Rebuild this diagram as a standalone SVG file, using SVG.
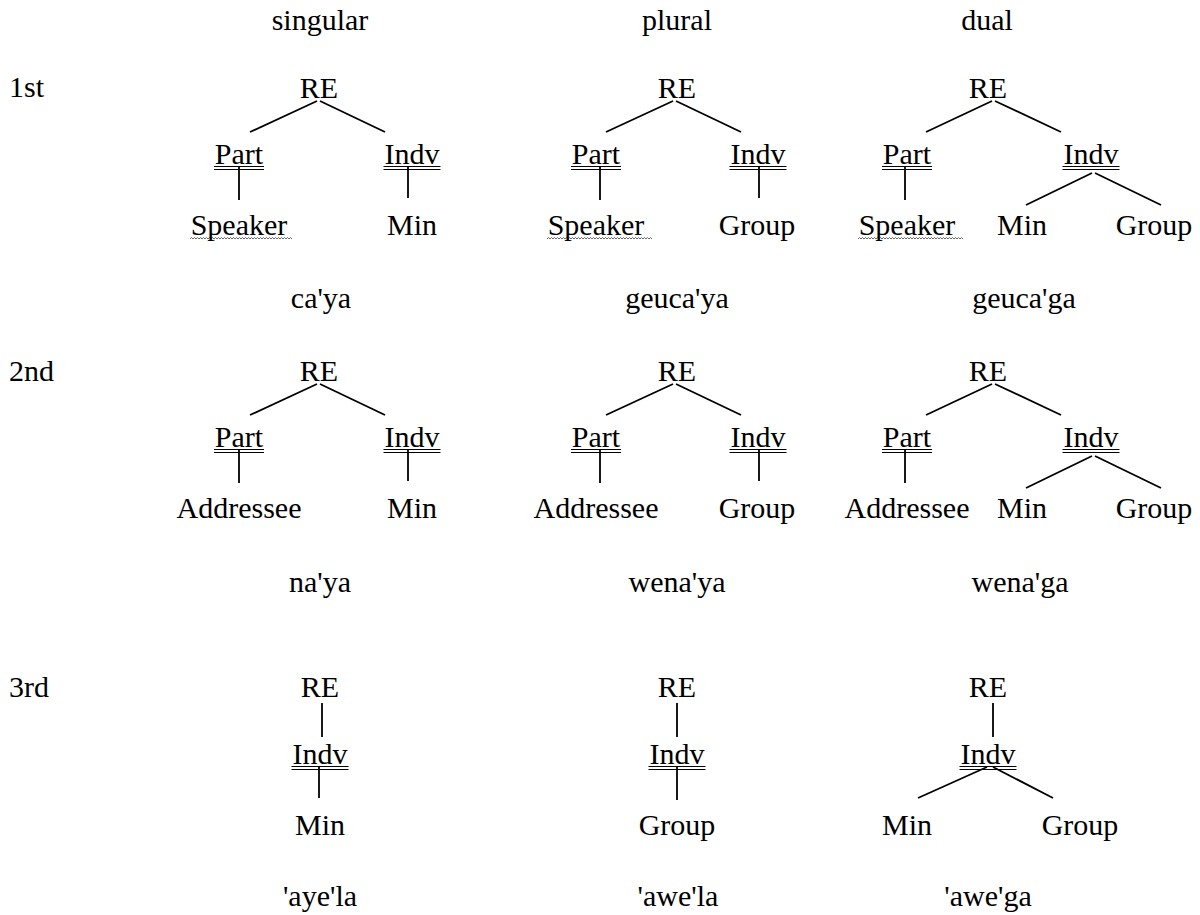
<svg xmlns="http://www.w3.org/2000/svg" width="1200" height="915" viewBox="0 0 1200 915">
  <rect width="1200" height="915" fill="#fff"/>

  <!-- tree edges -->
  <g id="connectors" stroke="#000" stroke-width="1.8" fill="none">
    <!-- 1st singular -->
    <line x1="317" y1="101" x2="250" y2="132"/>
    <line x1="320" y1="101" x2="385" y2="132"/>
    <line x1="239" y1="167" x2="239" y2="200"/>
    <line x1="408" y1="167" x2="408" y2="198"/>
    <!-- 1st plural -->
    <line x1="673" y1="101" x2="606" y2="132"/>
    <line x1="676" y1="101" x2="741" y2="132"/>
    <line x1="600" y1="167" x2="600" y2="200"/>
    <line x1="759" y1="167" x2="759" y2="198"/>
    <!-- 1st dual -->
    <line x1="992" y1="101" x2="926" y2="132"/>
    <line x1="995" y1="101" x2="1061" y2="132"/>
    <line x1="905" y1="167" x2="905" y2="200"/>
    <line x1="1092" y1="173" x2="1026" y2="205"/>
    <line x1="1095" y1="173" x2="1161" y2="205"/>
    <!-- 2nd singular -->
    <line x1="317" y1="384" x2="250" y2="415"/>
    <line x1="320" y1="384" x2="385" y2="415"/>
    <line x1="239" y1="450" x2="239" y2="483"/>
    <line x1="408" y1="450" x2="408" y2="481"/>
    <!-- 2nd plural -->
    <line x1="673" y1="384" x2="606" y2="415"/>
    <line x1="676" y1="384" x2="741" y2="415"/>
    <line x1="600" y1="450" x2="600" y2="483"/>
    <line x1="759" y1="450" x2="759" y2="481"/>
    <!-- 2nd dual -->
    <line x1="992" y1="384" x2="926" y2="415"/>
    <line x1="995" y1="384" x2="1061" y2="415"/>
    <line x1="905" y1="450" x2="905" y2="483"/>
    <line x1="1092" y1="456" x2="1026" y2="488"/>
    <line x1="1095" y1="456" x2="1161" y2="488"/>
    <!-- 3rd singular -->
    <line x1="322" y1="703" x2="322" y2="737"/>
    <line x1="319" y1="767" x2="319" y2="798"/>
    <!-- 3rd plural -->
    <line x1="677" y1="703" x2="677" y2="737"/>
    <line x1="677" y1="767" x2="677" y2="800"/>
    <!-- 3rd dual -->
    <line x1="993" y1="703" x2="993" y2="737"/>
    <line x1="987" y1="767" x2="918" y2="798"/>
    <line x1="993" y1="767" x2="1053" y2="798"/>
  </g>

  <!-- double underlines under Part / Indv -->
  <g id="underlines" stroke="#000" stroke-width="1">
    <path d="M214 166.5h50M214 169.5h50 M383.5 166.5h57M383.5 169.5h57"/>
    <path d="M571 166.5h50M571 169.5h50 M729.5 166.5h57M729.5 169.5h57"/>
    <path d="M882 166.5h50M882 169.5h50 M1062.5 166.5h57M1062.5 169.5h57"/>
    <path d="M214 449.5h50M214 452.5h50 M383.5 449.5h57M383.5 452.5h57"/>
    <path d="M571 449.5h50M571 452.5h50 M729.5 449.5h57M729.5 452.5h57"/>
    <path d="M882 449.5h50M882 452.5h50 M1062.5 449.5h57M1062.5 452.5h57"/>
    <path d="M291.5 766.5h57M291.5 769.5h57 M648.5 766.5h57M648.5 769.5h57 M959.5 766.5h57M959.5 769.5h57"/>
  </g>

  <!-- wavy underlines under Speaker -->
  <g id="wavy" stroke="#444" stroke-width="0.8" fill="none">
    <path d="M190 239 l1.5 -1.5 l1.5 1.5 l1.5 -1.5 l1.5 1.5 l1.5 -1.5 l1.5 1.5 l1.5 -1.5 l1.5 1.5 l1.5 -1.5 l1.5 1.5 l1.5 -1.5 l1.5 1.5 l1.5 -1.5 l1.5 1.5 l1.5 -1.5 l1.5 1.5 l1.5 -1.5 l1.5 1.5 l1.5 -1.5 l1.5 1.5 l1.5 -1.5 l1.5 1.5 l1.5 -1.5 l1.5 1.5 l1.5 -1.5 l1.5 1.5 l1.5 -1.5 l1.5 1.5 l1.5 -1.5 l1.5 1.5 l1.5 -1.5 l1.5 1.5 l1.5 -1.5 l1.5 1.5 l1.5 -1.5 l1.5 1.5 l1.5 -1.5 l1.5 1.5 l1.5 -1.5 l1.5 1.5 l1.5 -1.5 l1.5 1.5 l1.5 -1.5 l1.5 1.5 l1.5 -1.5 l1.5 1.5 l1.5 -1.5 l1.5 1.5 l1.5 -1.5 l1.5 1.5 l1.5 -1.5 l1.5 1.5 l1.5 -1.5 l1.5 1.5 l1.5 -1.5 l1.5 1.5 l1.5 -1.5 l1.5 1.5 l1.5 -1.5 l1.5 1.5 l1.5 -1.5 l1.5 1.5 l1.5 -1.5 l1.5 1.5 l1.5 -1.5 l1.5 1.5 l1.5 -1.5 l1.5 1.5"/>
    <path d="M547 239 l1.5 -1.5 l1.5 1.5 l1.5 -1.5 l1.5 1.5 l1.5 -1.5 l1.5 1.5 l1.5 -1.5 l1.5 1.5 l1.5 -1.5 l1.5 1.5 l1.5 -1.5 l1.5 1.5 l1.5 -1.5 l1.5 1.5 l1.5 -1.5 l1.5 1.5 l1.5 -1.5 l1.5 1.5 l1.5 -1.5 l1.5 1.5 l1.5 -1.5 l1.5 1.5 l1.5 -1.5 l1.5 1.5 l1.5 -1.5 l1.5 1.5 l1.5 -1.5 l1.5 1.5 l1.5 -1.5 l1.5 1.5 l1.5 -1.5 l1.5 1.5 l1.5 -1.5 l1.5 1.5 l1.5 -1.5 l1.5 1.5 l1.5 -1.5 l1.5 1.5 l1.5 -1.5 l1.5 1.5 l1.5 -1.5 l1.5 1.5 l1.5 -1.5 l1.5 1.5 l1.5 -1.5 l1.5 1.5 l1.5 -1.5 l1.5 1.5 l1.5 -1.5 l1.5 1.5 l1.5 -1.5 l1.5 1.5 l1.5 -1.5 l1.5 1.5 l1.5 -1.5 l1.5 1.5 l1.5 -1.5 l1.5 1.5 l1.5 -1.5 l1.5 1.5 l1.5 -1.5 l1.5 1.5 l1.5 -1.5 l1.5 1.5 l1.5 -1.5 l1.5 1.5 l1.5 -1.5 l1.5 1.5 l1.5 -1.5 l1.5 1.5"/>
    <path d="M858 239 l1.5 -1.5 l1.5 1.5 l1.5 -1.5 l1.5 1.5 l1.5 -1.5 l1.5 1.5 l1.5 -1.5 l1.5 1.5 l1.5 -1.5 l1.5 1.5 l1.5 -1.5 l1.5 1.5 l1.5 -1.5 l1.5 1.5 l1.5 -1.5 l1.5 1.5 l1.5 -1.5 l1.5 1.5 l1.5 -1.5 l1.5 1.5 l1.5 -1.5 l1.5 1.5 l1.5 -1.5 l1.5 1.5 l1.5 -1.5 l1.5 1.5 l1.5 -1.5 l1.5 1.5 l1.5 -1.5 l1.5 1.5 l1.5 -1.5 l1.5 1.5 l1.5 -1.5 l1.5 1.5 l1.5 -1.5 l1.5 1.5 l1.5 -1.5 l1.5 1.5 l1.5 -1.5 l1.5 1.5 l1.5 -1.5 l1.5 1.5 l1.5 -1.5 l1.5 1.5 l1.5 -1.5 l1.5 1.5 l1.5 -1.5 l1.5 1.5 l1.5 -1.5 l1.5 1.5 l1.5 -1.5 l1.5 1.5 l1.5 -1.5 l1.5 1.5 l1.5 -1.5 l1.5 1.5 l1.5 -1.5 l1.5 1.5 l1.5 -1.5 l1.5 1.5 l1.5 -1.5 l1.5 1.5 l1.5 -1.5 l1.5 1.5 l1.5 -1.5 l1.5 1.5 l1.5 -1.5 l1.5 1.5 l1.5 -1.5 l1.5 1.5"/>
  </g>

  <!-- column headers -->
  <g id="headers">
    <text x="320" y="30" font-size="30" font-family="Liberation Serif" text-anchor="middle">singular</text>
    <text x="677" y="30" font-size="30" font-family="Liberation Serif" text-anchor="middle">plural</text>
    <text x="987" y="30" font-size="30" font-family="Liberation Serif" text-anchor="middle">dual</text>
  </g>

  <!-- row labels -->
  <g id="row-labels">
    <text x="9" y="97" font-size="30" font-family="Liberation Serif">1st</text>
    <text x="9" y="381" font-size="30" font-family="Liberation Serif">2nd</text>
    <text x="9" y="697" font-size="30" font-family="Liberation Serif">3rd</text>
  </g>

  <!-- 1st person -->
  <g id="n1s-re"><text x="319" y="98" font-size="30" font-family="Liberation Serif" text-anchor="middle">RE</text></g>
  <g id="n1s-part"><text x="239" y="164" font-size="30" font-family="Liberation Serif" text-anchor="middle">Part</text></g>
  <g id="n1s-indv"><text x="412" y="164" font-size="30" font-family="Liberation Serif" text-anchor="middle">Indv</text></g>
  <g id="n1s-speaker"><text x="239" y="235" font-size="30" font-family="Liberation Serif" text-anchor="middle">Speaker</text></g>
  <g id="n1s-min"><text x="412" y="235" font-size="30" font-family="Liberation Serif" text-anchor="middle">Min</text></g>

  <g id="n1p-re"><text x="677" y="98" font-size="30" font-family="Liberation Serif" text-anchor="middle">RE</text></g>
  <g id="n1p-part"><text x="596" y="164" font-size="30" font-family="Liberation Serif" text-anchor="middle">Part</text></g>
  <g id="n1p-indv"><text x="758" y="164" font-size="30" font-family="Liberation Serif" text-anchor="middle">Indv</text></g>
  <g id="n1p-speaker"><text x="596" y="235" font-size="30" font-family="Liberation Serif" text-anchor="middle">Speaker</text></g>
  <g id="n1p-group"><text x="757" y="235" font-size="30" font-family="Liberation Serif" text-anchor="middle">Group</text></g>

  <g id="n1d-re"><text x="988" y="98" font-size="30" font-family="Liberation Serif" text-anchor="middle">RE</text></g>
  <g id="n1d-part"><text x="907" y="164" font-size="30" font-family="Liberation Serif" text-anchor="middle">Part</text></g>
  <g id="n1d-indv"><text x="1091" y="164" font-size="30" font-family="Liberation Serif" text-anchor="middle">Indv</text></g>
  <g id="n1d-speaker"><text x="907" y="235" font-size="30" font-family="Liberation Serif" text-anchor="middle">Speaker</text></g>
  <g id="n1d-min"><text x="1022" y="235" font-size="30" font-family="Liberation Serif" text-anchor="middle">Min</text></g>
  <g id="n1d-group"><text x="1154" y="235" font-size="30" font-family="Liberation Serif" text-anchor="middle">Group</text></g>

  <g id="forms-1st">
    <text x="321" y="308" font-size="30" font-family="Liberation Serif" text-anchor="middle">ca'ya</text>
    <text x="677" y="308" font-size="30" font-family="Liberation Serif" text-anchor="middle">geuca'ya</text>
    <text x="1024" y="308" font-size="30" font-family="Liberation Serif" text-anchor="middle">geuca'ga</text>
  </g>

  <!-- 2nd person -->
  <g id="n2s-re"><text x="319" y="381" font-size="30" font-family="Liberation Serif" text-anchor="middle">RE</text></g>
  <g id="n2s-part"><text x="239" y="447" font-size="30" font-family="Liberation Serif" text-anchor="middle">Part</text></g>
  <g id="n2s-indv"><text x="412" y="447" font-size="30" font-family="Liberation Serif" text-anchor="middle">Indv</text></g>
  <g id="n2s-addressee"><text x="239" y="518" font-size="30" font-family="Liberation Serif" text-anchor="middle">Addressee</text></g>
  <g id="n2s-min"><text x="412" y="518" font-size="30" font-family="Liberation Serif" text-anchor="middle">Min</text></g>

  <g id="n2p-re"><text x="677" y="381" font-size="30" font-family="Liberation Serif" text-anchor="middle">RE</text></g>
  <g id="n2p-part"><text x="596" y="447" font-size="30" font-family="Liberation Serif" text-anchor="middle">Part</text></g>
  <g id="n2p-indv"><text x="758" y="447" font-size="30" font-family="Liberation Serif" text-anchor="middle">Indv</text></g>
  <g id="n2p-addressee"><text x="596" y="518" font-size="30" font-family="Liberation Serif" text-anchor="middle">Addressee</text></g>
  <g id="n2p-group"><text x="757" y="518" font-size="30" font-family="Liberation Serif" text-anchor="middle">Group</text></g>

  <g id="n2d-re"><text x="988" y="381" font-size="30" font-family="Liberation Serif" text-anchor="middle">RE</text></g>
  <g id="n2d-part"><text x="907" y="447" font-size="30" font-family="Liberation Serif" text-anchor="middle">Part</text></g>
  <g id="n2d-indv"><text x="1091" y="447" font-size="30" font-family="Liberation Serif" text-anchor="middle">Indv</text></g>
  <g id="n2d-addressee"><text x="907" y="518" font-size="30" font-family="Liberation Serif" text-anchor="middle">Addressee</text></g>
  <g id="n2d-min"><text x="1022" y="518" font-size="30" font-family="Liberation Serif" text-anchor="middle">Min</text></g>
  <g id="n2d-group"><text x="1154" y="518" font-size="30" font-family="Liberation Serif" text-anchor="middle">Group</text></g>

  <g id="forms-2nd">
    <text x="320" y="592" font-size="30" font-family="Liberation Serif" text-anchor="middle">na'ya</text>
    <text x="677" y="592" font-size="30" font-family="Liberation Serif" text-anchor="middle">wena'ya</text>
    <text x="1020" y="592" font-size="30" font-family="Liberation Serif" text-anchor="middle">wena'ga</text>
  </g>

  <!-- 3rd person -->
  <g id="n3s-re"><text x="320" y="697" font-size="30" font-family="Liberation Serif" text-anchor="middle">RE</text></g>
  <g id="n3s-indv"><text x="320" y="764" font-size="30" font-family="Liberation Serif" text-anchor="middle">Indv</text></g>
  <g id="n3s-min"><text x="320" y="835" font-size="30" font-family="Liberation Serif" text-anchor="middle">Min</text></g>

  <g id="n3p-re"><text x="677" y="697" font-size="30" font-family="Liberation Serif" text-anchor="middle">RE</text></g>
  <g id="n3p-indv"><text x="677" y="764" font-size="30" font-family="Liberation Serif" text-anchor="middle">Indv</text></g>
  <g id="n3p-group"><text x="677" y="835" font-size="30" font-family="Liberation Serif" text-anchor="middle">Group</text></g>

  <g id="n3d-re"><text x="988" y="697" font-size="30" font-family="Liberation Serif" text-anchor="middle">RE</text></g>
  <g id="n3d-indv"><text x="988" y="764" font-size="30" font-family="Liberation Serif" text-anchor="middle">Indv</text></g>
  <g id="n3d-min"><text x="907" y="835" font-size="30" font-family="Liberation Serif" text-anchor="middle">Min</text></g>
  <g id="n3d-group"><text x="1080" y="835" font-size="30" font-family="Liberation Serif" text-anchor="middle">Group</text></g>

  <g id="forms-3rd">
    <text x="320" y="906" font-size="30" font-family="Liberation Serif" text-anchor="middle">'aye'la</text>
    <text x="678" y="906" font-size="30" font-family="Liberation Serif" text-anchor="middle">'awe'la</text>
    <text x="988" y="906" font-size="30" font-family="Liberation Serif" text-anchor="middle">'awe'ga</text>
  </g>
</svg>
